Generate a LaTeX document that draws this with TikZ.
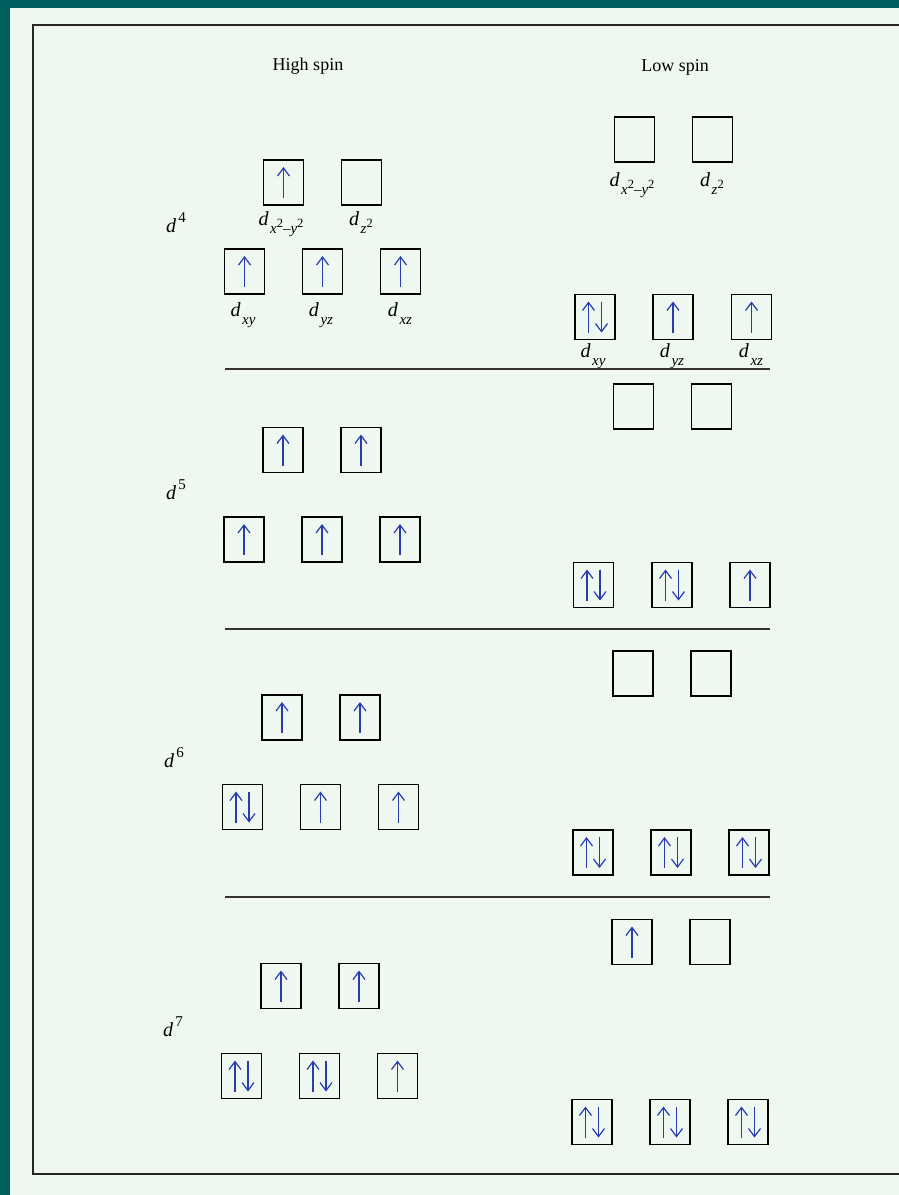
\documentclass[tikz,border=0pt]{standalone}
\usepackage{fontspec}
\setmainfont{Liberation Serif}
\usetikzlibrary{arrows.meta}
\definecolor{tealbg}{RGB}{0,94,94}
\definecolor{mintbg}{RGB}{238,247,240}
\definecolor{spinblue}{RGB}{40,60,175}
\newcommand\subs[1]{\raisebox{-0.42em}{\fontsize{15}{15}\selectfont #1}}
\newcommand\sqr{\raisebox{0.42em}{\fontsize{12.5}{12.5}\selectfont 2}}
\newcommand\dlab[1]{\textit{d}\hspace{1.5pt}\subs{#1}}
\newcommand\dconf[1]{\textit{d}\hspace{2pt}\raisebox{0.5em}{\fontsize{15}{15}\selectfont #1}}
\newcommand\spinup[1]{\draw[spin] ([yshift=7pt]#1.south) -- ([yshift=-7pt]#1.north);}
\newcommand\spinpair[1]{%
  \draw[spin] ([xshift=-6.5pt,yshift=7pt]#1.south) -- ([xshift=-6.5pt,yshift=-7pt]#1.north);
  \draw[spin] ([xshift=6.5pt,yshift=-7pt]#1.north) -- ([xshift=6.5pt,yshift=7pt]#1.south);}
\begin{document}
\begin{tikzpicture}[x=1pt,y=-1pt,
  orb/.style={draw=black, line width=1.4pt, minimum width=40pt, minimum height=45pt, inner sep=0pt, outer sep=0pt},
  spin/.style={draw=spinblue, line width=1.2pt, -{Straight Barb[length=8pt,width=12pt]}},
  olab/.style={anchor=base, inner sep=0pt, font=\fontsize{20}{21}\selectfont},
  conf/.style={anchor=base west, inner sep=0pt, font=\fontsize{20}{21}\selectfont},
  head/.style={inner sep=0pt, font=\fontsize{18}{20}\selectfont},
  sep/.style={draw=black!80, line width=1.6pt}]
\useasboundingbox (0,0) rectangle (899,1195);
\fill[tealbg] (0,0) rectangle (899,1195);
\fill[mintbg] (10,8) rectangle (899,1195);
\draw[line width=1.5pt, black!85] (899,25) -- (33,25) -- (33,1174) -- (899,1174);

\node[head] (hs) at (308,66) {High spin};
\node[head] (ls) at (675,67) {Low spin};

% ---------- d4 ----------
\node[conf] (c4) at (166,232) {\dconf{4}};
\node[orb] (h4e1) at (283.5,182.5) {};
\node[orb] (h4e2) at (361.5,182.5) {};
\node[orb] (h4t1) at (244.5,271.5) {};
\node[orb] (h4t2) at (322.5,271.5) {};
\node[orb] (h4t3) at (400.5,271.5) {};
\spinup{h4e1}
\spinup{h4t1}\spinup{h4t2}\spinup{h4t3}
\node[olab] (lh4e1) at (281,225) {\dlab{\textit{x}\sqr\textendash\textit{y}\sqr}};
\node[olab] (lh4e2) at (361,225) {\dlab{\textit{z}\sqr}};
\node[olab] (lh4t1) at (243,316) {\dlab{\textit{xy}}};
\node[olab] (lh4t2) at (321,316) {\dlab{\textit{yz}}};
\node[olab] (lh4t3) at (400,316) {\dlab{\textit{xz}}};

\node[orb] (l4e1) at (634.5,139.5) {};
\node[orb] (l4e2) at (712.5,139.5) {};
\node[orb] (l4t1) at (595,317) {};
\node[orb] (l4t2) at (673,317) {};
\node[orb] (l4t3) at (751.5,317) {};
\spinpair{l4t1}\spinup{l4t2}\spinup{l4t3}
\node[olab] (ll4e1) at (632,186) {\dlab{\textit{x}\sqr\textendash\textit{y}\sqr}};
\node[olab] (ll4e2) at (712,186) {\dlab{\textit{z}\sqr}};
\node[olab] (ll4t1) at (593,357) {\dlab{\textit{xy}}};
\node[olab] (ll4t2) at (672,357) {\dlab{\textit{yz}}};
\node[olab] (ll4t3) at (751,357) {\dlab{\textit{xz}}};

\coordinate (s1a) at (225,369); \coordinate (s1b) at (770,369);
\draw[sep] (s1a) -- (s1b);

% ---------- d5 ----------
\node[conf] (c5) at (166,499) {\dconf{5}};
\node[orb] (h5e1) at (283,450) {};
\node[orb] (h5e2) at (361,450) {};
\node[orb] (h5t1) at (244,539.5) {};
\node[orb] (h5t2) at (322,539.5) {};
\node[orb] (h5t3) at (400,539.5) {};
\spinup{h5e1}\spinup{h5e2}
\spinup{h5t1}\spinup{h5t2}\spinup{h5t3}

\node[orb] (l5e1) at (633.5,406.5) {};
\node[orb] (l5e2) at (711.5,406.5) {};
\node[orb] (l5t1) at (593.5,585) {};
\node[orb] (l5t2) at (672,585) {};
\node[orb] (l5t3) at (750,585) {};
\spinpair{l5t1}\spinpair{l5t2}\spinup{l5t3}

\coordinate (s2a) at (225,629); \coordinate (s2b) at (770,629);
\draw[sep] (s2a) -- (s2b);

% ---------- d6 ----------
\node[conf] (c6) at (164,767) {\dconf{6}};
\node[orb] (h6e1) at (282,717.5) {};
\node[orb] (h6e2) at (360,717.5) {};
\node[orb] (h6t1) at (242.5,807) {};
\node[orb] (h6t2) at (320.5,807) {};
\node[orb] (h6t3) at (398.5,807) {};
\spinup{h6e1}\spinup{h6e2}
\spinpair{h6t1}\spinup{h6t2}\spinup{h6t3}

\node[orb] (l6e1) at (633,673.5) {};
\node[orb] (l6e2) at (711,673.5) {};
\node[orb] (l6t1) at (593,852.5) {};
\node[orb] (l6t2) at (671,852.5) {};
\node[orb] (l6t3) at (749,852.5) {};
\spinpair{l6t1}\spinpair{l6t2}\spinpair{l6t3}

\coordinate (s3a) at (225,897); \coordinate (s3b) at (770,897);
\draw[sep] (s3a) -- (s3b);

% ---------- d7 ----------
\node[conf] (c7) at (163,1036) {\dconf{7}};
\node[orb] (h7e1) at (281,986) {};
\node[orb] (h7e2) at (359,986) {};
\node[orb] (h7t1) at (241.5,1076) {};
\node[orb] (h7t2) at (319.5,1076) {};
\node[orb] (h7t3) at (397.5,1076) {};
\spinup{h7e1}\spinup{h7e2}
\spinpair{h7t1}\spinpair{h7t2}\spinup{h7t3}

\node[orb] (l7e1) at (632,942) {};
\node[orb] (l7e2) at (710,942) {};
\node[orb] (l7t1) at (592,1122) {};
\node[orb] (l7t2) at (670,1122) {};
\node[orb] (l7t3) at (748,1122) {};
\spinup{l7e1}
\spinpair{l7t1}\spinpair{l7t2}\spinpair{l7t3}
\end{tikzpicture}
\end{document}
